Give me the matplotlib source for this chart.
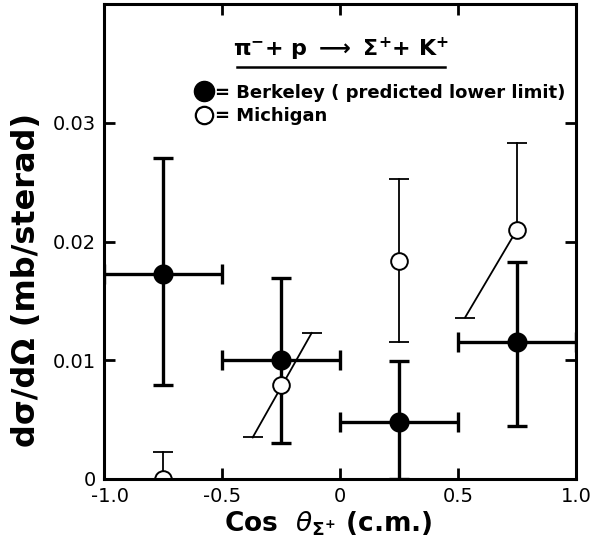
import matplotlib
matplotlib.use("Agg")
import matplotlib.pyplot as plt
from matplotlib.lines import Line2D
import matplotlib.transforms as mtransforms
import numpy as np

# ---- data ----
berk_x = [-0.75, -0.25, 0.25, 0.75]
berk_y = [0.0173, 0.0100, 0.0048, 0.0115]
berk_lo = [0.0079, 0.0030, 0.0000, 0.0045]
berk_hi = [0.0270, 0.0169, 0.0099, 0.0183]
berk_xlo = [-1.0, -0.5, 0.0, 0.5]
berk_xhi = [-0.5, 0.0, 0.5, 1.0]

mich_x = [-0.75, -0.25, 0.25, 0.75]
mich_y = [0.0000, 0.0079, 0.0184, 0.0210]
mich_lo = [0.0000, 0.0079, 0.0115, 0.0210]
mich_hi = [0.0023, 0.0079, 0.0253, 0.0283]

# slanted Michigan error bars (start / end in data units)
slant_x0 = [-0.37, 0.53]
slant_y0 = [0.0035, 0.0136]
slant_x1 = [-0.12, 0.75]
slant_y1 = [0.0123, 0.0210]
slant_cap_end = [True, False]

xticks = [-1.0, -0.5, 0.0, 0.5, 1.0]
xticklabels = ["-1.0", "-0.5", "0", "0.5", "1.0"]
yticks = [0.0, 0.01, 0.02, 0.03]
yticklabels = ["0", "0.01", "0.02", "0.03"]

FONT = "DejaVu Sans"
plt.rcParams["font.family"] = [FONT]
plt.rcParams["mathtext.default"] = "regular"

fig = plt.figure(figsize=(5.92, 5.56), dpi=100)
ax = fig.add_axes([104/592, 1-479/556, 472/592, 475/556])

k = "black"
# Berkeley error bars
bx = np.array(berk_x); by = np.array(berk_y)
yerr = [by - np.array(berk_lo), np.array(berk_hi) - by]
xerr = [bx - np.array(berk_xlo), np.array(berk_xhi) - bx]
ax.errorbar(bx, by, yerr=yerr, xerr=xerr, fmt="none", ecolor=k,
            elinewidth=2.4, capsize=7.5, capthick=2.4, zorder=2)

# Michigan vertical bars
mx = np.array(mich_x); my = np.array(mich_y)
mlo = np.array(mich_lo); mhi = np.array(mich_hi)
for xi, yi, lo, hi in zip(mx, my, mlo, mhi):
    if hi > yi:
        ax.plot([xi, xi], [yi, hi], color=k, lw=1.3, zorder=2)
        ax.plot([xi], [hi], marker="_", ms=15, mew=1.3, color=k, zorder=2)
    if lo < yi:
        ax.plot([xi, xi], [lo, yi], color=k, lw=1.3, zorder=2)
        ax.plot([xi], [lo], marker="_", ms=15, mew=1.3, color=k, zorder=2)

# slanted bars
for x0, y0, x1, y1, cap1 in zip(slant_x0, slant_y0, slant_x1, slant_y1, slant_cap_end):
    ax.plot([x0, x1], [y0, y1], color=k, lw=1.3, zorder=2)
    ax.plot([x0], [y0], marker="_", ms=15, mew=1.3, color=k, zorder=2)
    if cap1:
        ax.plot([x1], [y1], marker="_", ms=15, mew=1.3, color=k, zorder=2)

# markers (scatter so points on the axis edge are clipped to a half circle)
ax.scatter(bx, by, s=14.5**2, c=k, edgecolors=k, linewidths=0, zorder=2.3)
ax.scatter(mx, my, s=12**2, c="white", edgecolors=k, linewidths=1.4, zorder=2.3)

ax.set_xlim(-1.0, 1.0)
ax.set_ylim(0.0, 0.04)
ax.set_xticks(xticks)
ax.set_xticklabels(xticklabels)
ax.set_yticks(yticks)
ax.set_yticklabels(yticklabels)
ax.tick_params(direction="in", length=8, width=2, top=True, right=True,
               labelsize=14, pad=6)
for s in ax.spines.values():
    s.set_linewidth(2.2)
    s.set_zorder(3)
# nudge the "-1.0" label right, like the reference
lbl = ax.get_xticklabels()[0]
lbl.set_transform(lbl.get_transform() +
                  mtransforms.ScaledTranslation(6/100, 0, fig.dpi_scale_trans))

ax.set_xlabel(r"Cos  $\mathit{\theta}_{\Sigma^{+}}$ (c.m.)", fontsize=19,
              fontweight="bold")
ax.xaxis.set_label_coords(0.475, -0.065, transform=ax.transAxes)
ax.xaxis.label.set_va("top")
ax.set_ylabel("dσ/dΩ (mb/sterad)", fontsize=23, fontweight="bold")
ax.yaxis.set_label_coords(-0.131, 0.419)

# legend
ax.text(0.502, 0.891, r"$\pi^{-}$+ p $\longrightarrow$ $\Sigma^{+}$+ K$^{+}$",
        transform=ax.transAxes, ha="center", va="baseline", fontsize=16,
        fontweight="bold")
ax.plot([0.282, 0.722], [0.867, 0.867], transform=ax.transAxes, color=k, lw=1.8)
handles = [Line2D([], [], marker="o", ms=14.5, mfc=k, mec=k, ls="none"),
           Line2D([], [], marker="o", ms=12.5, mfc="white", mec=k, mew=1.6, ls="none")]
ax.legend(handles, ["= Berkeley ( predicted lower limit)", "= Michigan"],
          loc="upper left", bbox_to_anchor=(0.196, 0.832), frameon=False,
          handlelength=0.8, handletextpad=0.25, labelspacing=0.3,
          borderpad=0, borderaxespad=0,
          prop={"family": FONT, "weight": "bold", "size": 13})

fig.savefig("out.png", dpi=100)
